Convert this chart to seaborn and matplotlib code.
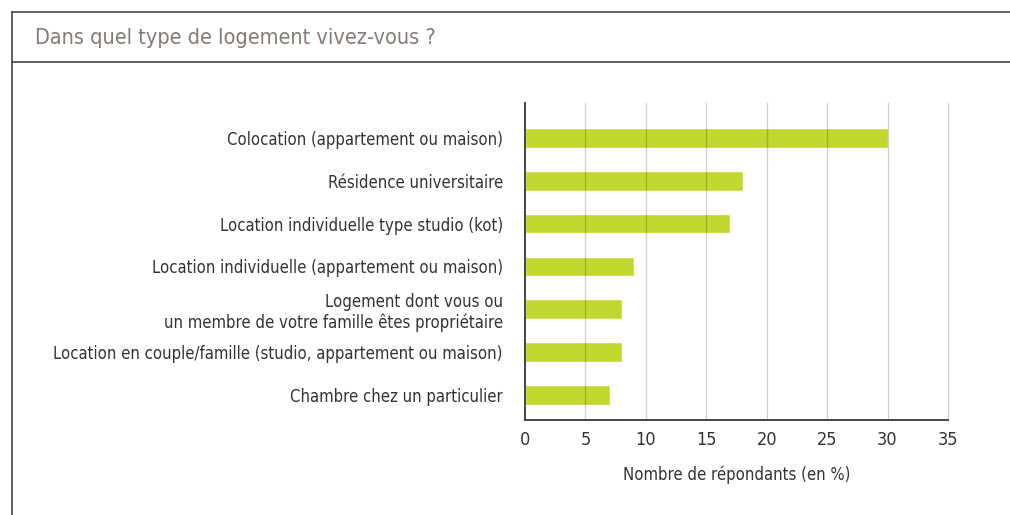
import matplotlib
matplotlib.use("Agg")
import matplotlib.pyplot as plt
from matplotlib.lines import Line2D
import seaborn as sns
import pandas as pd

# =============================
# DATA
# =============================
categories = [
    "Colocation (appartement ou maison)",
    "Résidence universitaire",
    "Location individuelle type studio (kot)",
    "Location individuelle (appartement ou maison)",
    "Logement dont vous ou\nun membre de votre famille êtes propriétaire",
    "Location en couple/famille (studio, appartement ou maison)",
    "Chambre chez un particulier",
]
values = [30, 18, 17, 9, 8, 8, 7]
xticks = [0, 5, 10, 15, 20, 25, 30, 35]

title = "Dans quel type de logement vivez-vous ?"
xlabel = "Nombre de répondants (en %)"

df = pd.DataFrame({"categorie": categories, "pct": values})

# =============================
# STYLE
# =============================
sns.set_style("white")
plt.rcParams["font.family"] = ["DejaVu Sans"]
plt.rcParams["font.stretch"] = "condensed"

text_col = "#333333"
bar_col = "#c2d72f"

fig = plt.figure(figsize=(10.1, 5.15), dpi=100)
ax = fig.add_axes([525 / 1010, 1 - 420 / 515, 423 / 1010, 317 / 515])

sns.barplot(data=df, x="pct", y="categorie", color=bar_col, width=0.46,
            saturation=1, ax=ax, zorder=1)

ax.set_xlim(0, 35)
ax.set_ylim(6.59, -0.82)
ax.set_xticks(xticks)
ax.set_xticklabels([str(t) for t in xticks], fontsize=13, color=text_col)
ax.tick_params(axis="x", length=5, width=1.2, color="#444444", pad=3)
ax.tick_params(axis="y", length=0, pad=16, labelsize=12, labelcolor=text_col)
ax.set_ylabel("")
ax.set_xlabel(xlabel, fontsize=12, color=text_col, labelpad=12)

# grid over the bars, semi transparent like the original
for t in xticks[1:]:
    ax.axvline(t, color="black", alpha=0.18, lw=1.0, zorder=2, clip_on=False)

for s in ["top", "right"]:
    ax.spines[s].set_visible(False)
for s in ["left", "bottom"]:
    ax.spines[s].set_color("#444444")
    ax.spines[s].set_linewidth(1.4)
    ax.spines[s].set_zorder(3)

# =============================
# FRAME + TITLE
# =============================
fig.add_artist(Line2D([12 / 1010, 1], [1 - 12 / 515, 1 - 12 / 515],
                      color="#444444", lw=1.2, transform=fig.transFigure))
fig.add_artist(Line2D([12 / 1010, 1], [1 - 62 / 515, 1 - 62 / 515],
                      color="#444444", lw=1.2, transform=fig.transFigure))
fig.add_artist(Line2D([12 / 1010, 12 / 1010], [0, 1 - 12 / 515],
                      color="#444444", lw=1.2, transform=fig.transFigure))

fig.text(35 / 1010, 1 - 38 / 515, title, fontsize=15.5, color="#857a77",
         va="center", ha="left")

plt.savefig("out.png", dpi=100)
